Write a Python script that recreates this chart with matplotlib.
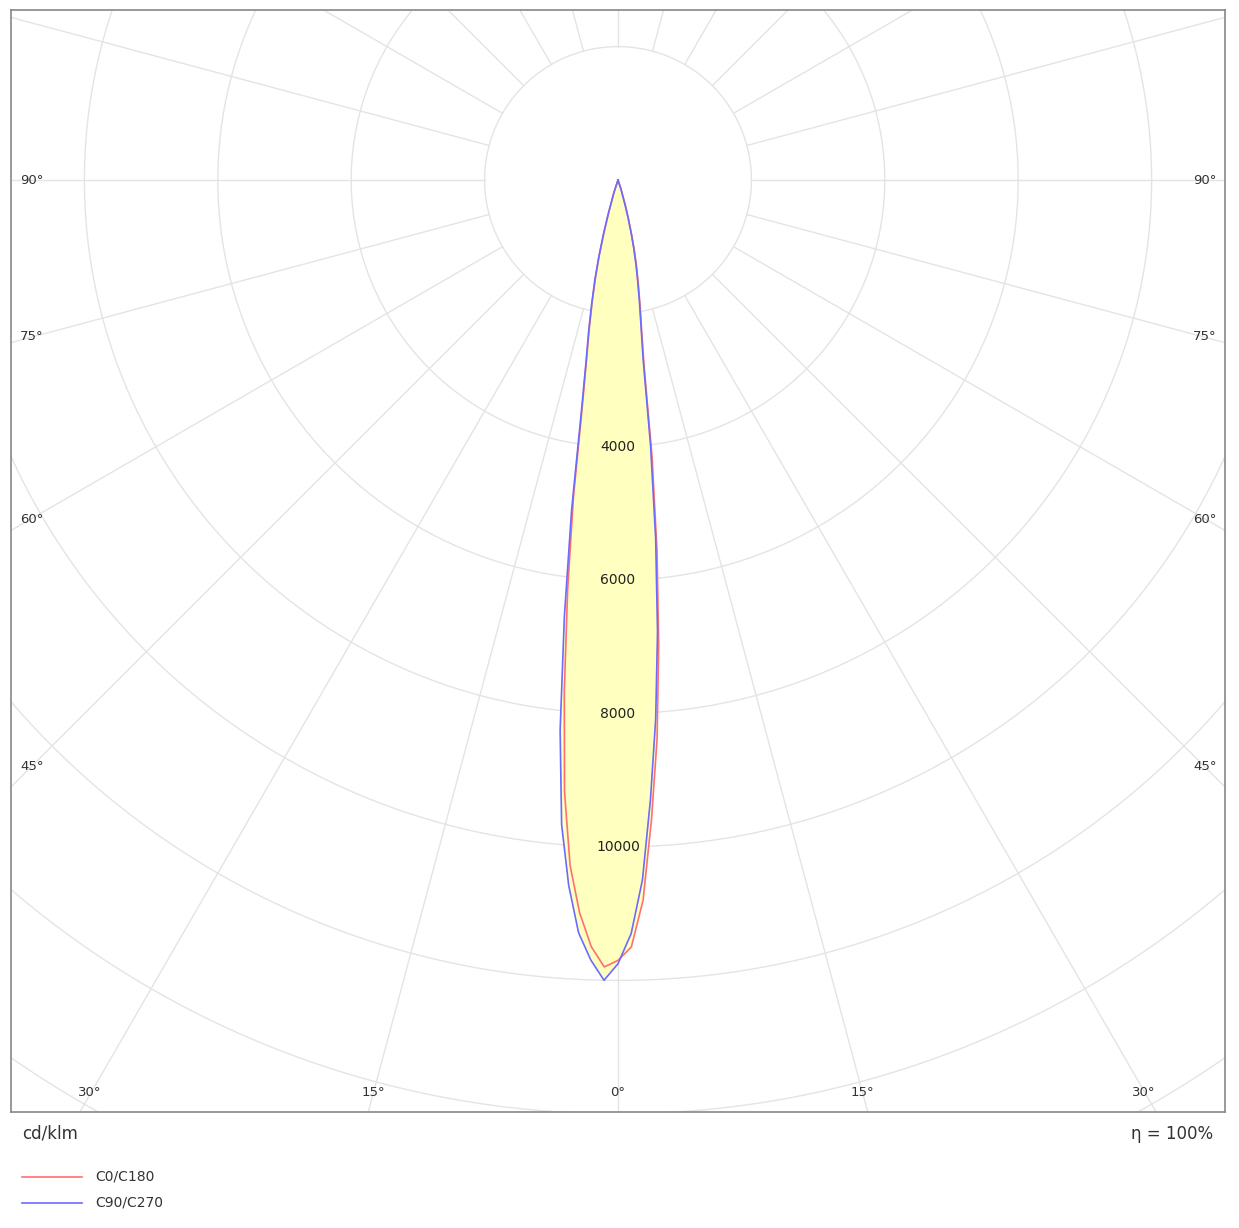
import numpy as np
import matplotlib
matplotlib.use("Agg")
import matplotlib.pyplot as plt

# data (cd/klm vs gamma angle in degrees)
angles = [0, 1, 2, 3, 4, 5, 6, 7, 8, 9, 10, 11, 12, 13, 14, 15, 16, 18, 20]
c180 = [11700, 11800, 11500, 11000, 10300, 9200, 7700, 6200, 4800, 3400, 2700, 2250, 1850, 1500, 1150, 800, 500, 200, 0]
c0   = [11700, 11500, 10800, 9600, 8400, 7000, 5600, 4200, 2800, 2250, 1900, 1600, 1350, 1100, 850, 600, 400, 150, 0]
c270 = [11750, 12000, 11700, 11300, 10600, 9700, 8300, 6600, 5000, 3500, 2750, 2300, 1900, 1550, 1200, 850, 550, 200, 0]
c90  = [11750, 11300, 10500, 9300, 8100, 6800, 5400, 4000, 2700, 2200, 1850, 1550, 1300, 1050, 800, 580, 380, 140, 0]
ring_labels = [4000, 6000, 8000, 10000]

def curve(left, right):
    a = np.radians(angles)
    lx = -np.array(left) * np.sin(a); ly = -np.array(left) * np.cos(a)
    rx = np.array(right) * np.sin(a); ry = -np.array(right) * np.cos(a)
    x = np.concatenate([lx[::-1], rx]); y = np.concatenate([ly[::-1], ry])
    return x, y

fig = plt.figure(figsize=(12.39, 12.28), dpi=100)
ax = fig.add_axes([11/1239, 1-1112/1228, 1214/1239, 1102/1228])
s = 0.0667
ax.set_xlim((11-618)/s, (1225-618)/s)
ax.set_ylim(-(1112-180)/s, (180-10)/s)
ax.set_xticks([]); ax.set_yticks([])
for sp in ax.spines.values():
    sp.set_color('#888888'); sp.set_linewidth(1.2)

gc = '#e4e4e4'
t = np.linspace(0, 2*np.pi, 400)
for r in range(2000, 18001, 2000):
    ax.plot(r*np.cos(t), r*np.sin(t), color=gc, lw=1, zorder=1)
for d in range(0, 360, 15):
    a = np.radians(d)
    ax.plot([2000*np.sin(a), 20000*np.sin(a)], [-2000*np.cos(a), -20000*np.cos(a)], color=gc, lw=1, zorder=1)
ax.plot([0, 0], [0, -2000], color=gc, lw=1, zorder=1)

xr, yr = curve(c180, c0)
xb, yb = curve(c270, c90)
ax.fill(xr, yr, color='#ffffc0', zorder=2, lw=0)
ax.fill(xb, yb, color='#ffffc0', zorder=2, lw=0)
ax.plot(xr, yr, color='#ff7070', lw=1.2, zorder=3)
ax.plot(xb, yb, color='#6b6bff', lw=1.2, zorder=3)

for v in ring_labels:
    ax.text(0, -v, str(v), ha='center', va='center', fontsize=10, color='#222222', zorder=4)

def fx(px): return px/1239
def fy(py): return 1-py/1228
for lab, py in [('90°', 180), ('75°', 337), ('60°', 519), ('45°', 766)]:
    fig.text(fx(20), fy(py), lab, ha='left', va='center', fontsize=9.5, color='#333333')
    fig.text(fx(1217), fy(py), lab, ha='right', va='center', fontsize=9.5, color='#333333')
for lab, px in [('30°', 90), ('15°', 373), ('0°', 618), ('15°', 862), ('30°', 1144)]:
    fig.text(fx(px), fy(1093), lab, ha='center', va='center', fontsize=9.5, color='#333333')

fig.text(fx(22), fy(1134), 'cd/klm', ha='left', va='center', fontsize=12, color='#333333')
fig.text(fx(1213), fy(1134), 'η = 100%', ha='right', va='center', fontsize=12, color='#333333')
fig.add_artist(plt.Line2D([fx(22), fx(82)], [fy(1177)]*2, color='#ff7070', lw=1.2))
fig.add_artist(plt.Line2D([fx(22), fx(82)], [fy(1203)]*2, color='#6b6bff', lw=1.2))
fig.text(fx(95), fy(1177), 'C0/C180', ha='left', va='center', fontsize=10, color='#333333')
fig.text(fx(95), fy(1203), 'C90/C270', ha='left', va='center', fontsize=10, color='#333333')

fig.savefig('out.png', dpi=100)
